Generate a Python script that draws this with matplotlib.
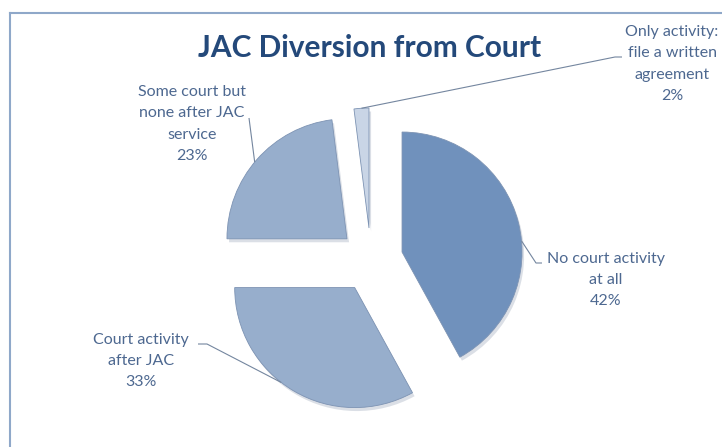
import numpy as np
import matplotlib
matplotlib.use("Agg")
import matplotlib.pyplot as plt
from matplotlib.lines import Line2D
from matplotlib import patheffects as pe

# ---- data ----
categories = ["No court activity\nat all", "Court activity\nafter JAC",
              "Some court but\nnone after JAC\nservice", "Only activity:\nfile a written\nagreement"]
values = [42, 33, 23, 2]
title = "JAC Diversion from Court"

# ---- style ----
colors = ["#7091BC", "#97AECC", "#97AECC", "#C9D5E6"]
explode_frac = [0.267, 0.267, 0.267, 0.267]
text_color = "#4D6890"
title_color = "#24497A"
line_color = "#74869F"
font = ["Lato", "DejaVu Sans"]

W, H = 722, 447
fig = plt.figure(figsize=(W / 100, H / 100), dpi=100)
ax = fig.add_axes([0, 0, 1, 1])
ax.axis("off")

wedges, _ = ax.pie(values, startangle=90, counterclock=False, colors=colors,
                   explode=explode_frac, radius=1.0,
                   wedgeprops=dict(edgecolor="#7D93B3", linewidth=0.6))
for w in wedges:
    w.set_path_effects([pe.SimplePatchShadow(offset=(1.5, -2.5), shadow_rgbFace="#9aa6b8", alpha=0.35),
                        pe.Normal()])

# pixel-calibrated view: pie center at (371,260) px, radius 120 px
scale, cx, cy = 120.0, 371.0, 260.0
ax.set_xlim(-cx / scale, (W - cx) / scale)
ax.set_ylim(-(H - cy) / scale, cy / scale)
ax.set_aspect("equal")

def px(x, y):
    return ((x - cx) / scale, (cy - y) / scale)

def arc_point(w, frac):
    t1, t2 = sorted((w.theta1, w.theta2))
    t = np.deg2rad(t1 + frac * (t2 - t1))
    return (w.center[0] + w.r * np.cos(t), w.center[1] + w.r * np.sin(t))

# label layout: (text center px, leader waypoints px, angular fraction on arc)
layout = [
    ((606, 280), [(536, 263), (542, 263)], 0.44),
    ((141, 361), [(207, 344), (198, 344)], 0.44),
    ((192, 124), [(249, 118)], 0.52),
    ((672, 64), [(615, 57), (622, 57)], 0.50),
]

for w, cat, val, (tc, pts, fr) in zip(wedges, categories, values, layout):
    start = arc_point(w, fr)
    xs = [start[0]] + [px(*p)[0] for p in pts]
    ys = [start[1]] + [px(*p)[1] for p in pts]
    ax.plot(xs, ys, color=line_color, lw=0.8, solid_capstyle="butt", zorder=3)
    tx, ty = px(*tc)
    ax.text(tx, ty, f"{cat}\n{val}%", ha="center", va="center", color=text_color,
            fontsize=11.5, family=font, linespacing=1.68)

tx, ty = px(370, 48)
ax.text(tx, ty, title, ha="center", va="center", color=title_color,
        fontsize=21.5, fontweight="bold", family=font)

# chart frame (top and left edges visible)
fig.add_artist(Line2D([10 / W, 1], [1 - 13 / H, 1 - 13 / H], transform=fig.transFigure,
                      color="#8FA8C9", lw=1.5))
fig.add_artist(Line2D([10 / W, 10 / W], [0, 1 - 13 / H], transform=fig.transFigure,
                      color="#8FA8C9", lw=1.5))

fig.savefig("out.png", dpi=100, facecolor="white")
